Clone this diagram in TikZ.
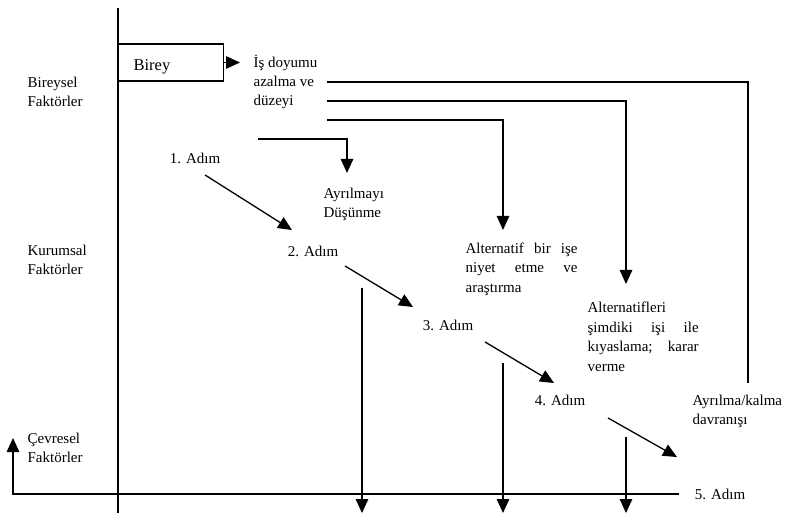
\documentclass[tikz,border=0pt]{standalone}
\usepackage{fontspec}
\setmainfont{Liberation Serif}
\usetikzlibrary{arrows.meta,calc}

\tikzset{
  arr/.style={-{Triangle[length=14pt,width=12.5pt]}},
  lbl/.style={inner sep=0pt,align=left,font=\fontsize{15}{19}\selectfont},
  jst/.style={lbl,anchor=west,font=\fontsize{15}{19.5}\selectfont},
}

\begin{document}
\begin{tikzpicture}[x=1pt,y=-1pt,line width=1.3pt]
        \useasboundingbox (0,0) rectangle (785,513);
        % factor labels
        \node[lbl,anchor=west] (bir) at (27,92) {Bireysel\\Faktörler};
        \node[lbl,anchor=west] (kur) at (27,260) {Kurumsal\\Faktörler};
        \node[lbl,anchor=west] (cev) at (27,448) {Çevresel\\Faktörler};
        \draw (118,8) -- (118,513);
        % individual
        \node[draw,anchor=west,text height=27pt,text depth=10pt,text width=75pt,inner xsep=15pt,inner ysep=0pt,
              font=\fontsize{16.5}{19}\selectfont,align=left] (birey) at (118,62.5) {Birey};
        \node[lbl,anchor=west] (isd) at (253,82) {İş doyumu\\azalma ve\\düzeyi};
        \draw[arr] (birey.east) -- ([xshift=-13pt]isd.west |- birey.east);
        % steps
        \node[lbl] (a1) at (195,158) {1. Adım};
        \node[lbl] (a2) at (313,251) {2. Adım};
        \node[lbl] (a3) at (448,325) {3. Adım};
        \node[lbl] (a4) at (560,400) {4. Adım};
        \node[lbl] (a5) at (720,494) {5. Adım};
        \node[lbl,anchor=west] (ayr) at (323,204) {Ayrılmayı\\Düşünme};
        \node[jst,text width=112pt] (alt) at (465,269) {Alternatif\hfill bir\hfill işe\\niyet\hfill etme\hfill ve\\araştırma};
        \node[jst,text width=111pt] (kiy) at (587,337) {Alternatifleri\\şimdiki\hfill işi\hfill ile\\kıyaslama;\hfill karar\\verme};
        \node[lbl,anchor=west] (dav) at (692,411) {Ayrılma/kalma\\davranışı};
        % step arrows
        \draw[arr] ([xshift=10pt,yshift=-11pt]a1.south) -- ([xshift=-21pt,yshift=15pt]a2.north);
        \draw[arr] ([xshift=32pt,yshift=-9pt]a2.south) -- ([xshift=-35pt,yshift=12pt]a3.north);
        \draw[arr] ([xshift=37pt,yshift=-11pt]a3.south) -- ([xshift=-6pt,yshift=11pt]a4.north);
        \draw[arr] ([xshift=48pt,yshift=-12pt]a4.south) -- ([xshift=-43pt,yshift=31pt]a5.north);
        % feedback lines
        \coordinate (s1) at (327,82);
        \coordinate (e1) at (748,383);
        \coordinate (s2) at (327,101);
        \coordinate (e2) at (626,284);
        \coordinate (s3) at (327,120);
        \coordinate (e3) at (503,230);
        \coordinate (s4) at (258,139);
        \coordinate (e4) at (347,173);
        \draw (s1) -| (e1);
        \draw[arr] (s2) -| (e2);
        \draw[arr] (s3) -| (e3);
        \draw[arr] (s4) -| (e4);
        % down arrows
        \coordinate (d2) at (362,288);
        \coordinate (d3) at (503,363);
        \coordinate (d4) at (626,437);
        \draw[arr] (d2) -- (d2 |- 0,513);
        \draw[arr] (d3) -- (d3 |- 0,513);
        \draw[arr] (d4) -- (d4 |- 0,513);
        % environment
        \coordinate (c0) at (13,438);
        \draw[arr] ([xshift=-15pt]a5.west) -| (c0);
\end{tikzpicture}
\end{document}
